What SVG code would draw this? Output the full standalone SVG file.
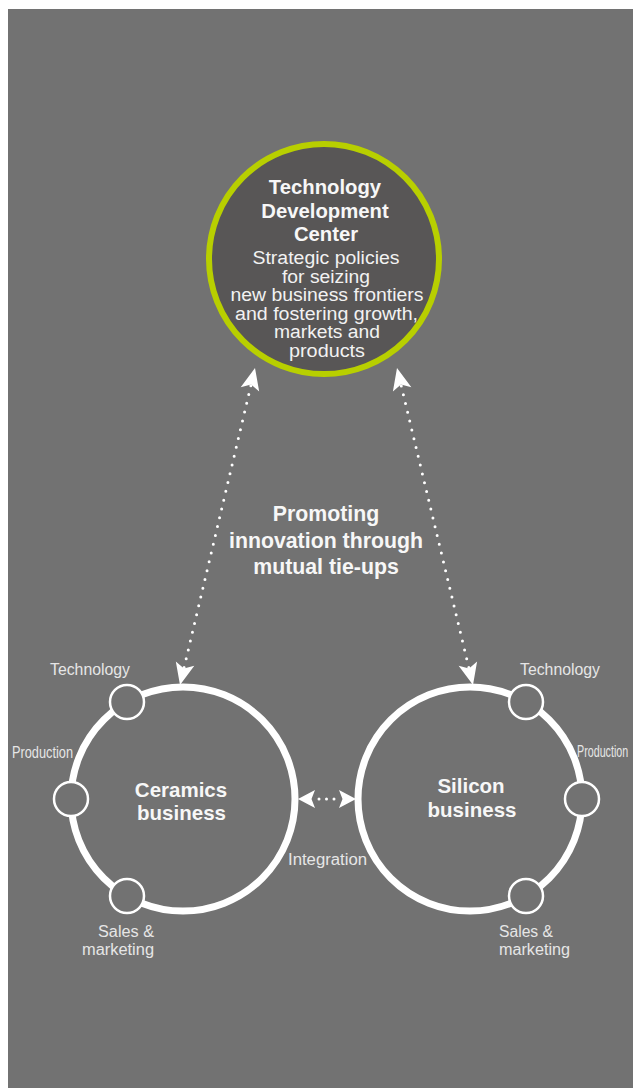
<svg xmlns="http://www.w3.org/2000/svg" width="633" height="1088" viewBox="0 0 633 1088">
  <style>
    .bg { fill: #727272; }
    .hub { fill: #585656; stroke: #b8cf00; stroke-width: 6; }
    .ring { fill: none; stroke: #ffffff; stroke-width: 7; }
    .sub { fill: #727272; stroke: #ffffff; stroke-width: 2.5; }
    .bold { font-family: "Liberation Sans", Arial, sans-serif; font-weight: bold; fill: #f7f7f7; text-anchor: middle; }
    .reg { font-family: "Liberation Sans", Arial, sans-serif; font-size: 18px; fill: #f2f2f2; text-anchor: middle; }
    .lbl { font-family: "Liberation Sans", Arial, sans-serif; font-size: 16px; fill: #e6e6e6; }
    .dots { fill: none; stroke: #ffffff; stroke-width: 3; stroke-linecap: round; }
    .head { fill: none; stroke: none; }
  </style>
  <defs>
    <marker id="arrowBig" markerUnits="userSpaceOnUse" orient="auto-start-reverse" refX="0" refY="0" markerWidth="30" markerHeight="30" overflow="visible">
      <path d="M0,0 L-22,-9.5 L-17,0 L-22,9.5 Z" fill="#ffffff"/>
    </marker>
    <marker id="arrowSmall" markerUnits="userSpaceOnUse" orient="auto-start-reverse" refX="0" refY="0" markerWidth="30" markerHeight="30" overflow="visible">
      <path d="M0,0 L-17,-9 L-13.5,0 L-17,9 Z" fill="#ffffff"/>
    </marker>
  </defs>

  <rect class="bg" x="8" y="9" width="625" height="1079"/>

  <g id="connectors">
    <g id="conn-hub-ceramics">
      <path class="dots" d="M184.1,667.5 L250.9,385.5" stroke-dasharray="0 9.05"/>
      <path class="head" d="M180,685 L255,368" marker-start="url(#arrowBig)" marker-end="url(#arrowBig)"/>
    </g>
    <g id="conn-hub-silicon">
      <path class="dots" d="M468.8,667.5 L401.2,385.5" stroke-dasharray="0 9.05"/>
      <path class="head" d="M473,685 L397,368" marker-start="url(#arrowBig)" marker-end="url(#arrowBig)"/>
    </g>
    <g id="conn-integration">
      <path class="dots" d="M319,799 L335,799" stroke-dasharray="0 7.5"/>
      <path class="head" d="M298,799 L356,799" marker-start="url(#arrowSmall)" marker-end="url(#arrowSmall)"/>
    </g>
  </g>

  <g id="hub">
    <circle class="hub" cx="324" cy="259" r="115"/>
    <text class="bold" font-size="20.3" x="325" y="194">Technology</text>
    <text class="bold" font-size="20.3" x="325" y="217.5">Development</text>
    <text class="bold" font-size="20.3" x="326" y="241">Center</text>
    <text class="reg" x="326" y="264" textLength="147" lengthAdjust="spacingAndGlyphs">Strategic policies</text>
    <text class="reg" x="326" y="282.5" textLength="88" lengthAdjust="spacingAndGlyphs">for seizing</text>
    <text class="reg" x="327" y="301" textLength="193" lengthAdjust="spacingAndGlyphs">new business frontiers</text>
    <text class="reg" x="326.5" y="319.5" textLength="183" lengthAdjust="spacingAndGlyphs">and fostering growth,</text>
    <text class="reg" x="327" y="338" textLength="106" lengthAdjust="spacingAndGlyphs">markets and</text>
    <text class="reg" x="327" y="356.5" textLength="76" lengthAdjust="spacingAndGlyphs">products</text>
  </g>

  <g id="label-promoting">
    <text class="bold" font-size="21.3" x="326" y="521">Promoting</text>
    <text class="bold" font-size="21.3" x="326" y="548">innovation through</text>
    <text class="bold" font-size="21.3" x="326" y="574">mutual tie-ups</text>
  </g>

  <g id="ceramics">
    <circle class="ring" cx="183" cy="799" r="112"/>
    <circle class="sub" cx="127" cy="702" r="17"/>
    <circle class="sub" cx="71" cy="799" r="17"/>
    <circle class="sub" cx="127" cy="896" r="17"/>
    <text class="bold" font-size="20.5" x="181" y="797">Ceramics</text>
    <text class="bold" font-size="20.5" x="181.5" y="820">business</text>
    <text class="lbl" x="50" y="675" textLength="80" lengthAdjust="spacingAndGlyphs">Technology</text>
    <text class="lbl" x="12" y="758" textLength="61" lengthAdjust="spacingAndGlyphs">Production</text>
    <text class="lbl" x="98" y="937" textLength="56" lengthAdjust="spacingAndGlyphs">Sales &amp;</text>
    <text class="lbl" x="82" y="955" textLength="72" lengthAdjust="spacingAndGlyphs">marketing</text>
  </g>

  <g id="silicon">
    <circle class="ring" cx="470" cy="799" r="112"/>
    <circle class="sub" cx="526" cy="702" r="17"/>
    <circle class="sub" cx="582" cy="799" r="17"/>
    <circle class="sub" cx="526" cy="896" r="17"/>
    <text class="bold" font-size="20.5" x="471" y="793">Silicon</text>
    <text class="bold" font-size="20.5" x="472" y="817">business</text>
    <text class="lbl" x="520" y="675" textLength="80" lengthAdjust="spacingAndGlyphs">Technology</text>
    <text class="lbl" transform="translate(577,757) scale(0.67,1)" x="0" y="0">Production</text>
    <text class="lbl" x="499" y="937" textLength="54" lengthAdjust="spacingAndGlyphs">Sales &amp;</text>
    <text class="lbl" x="499" y="955" textLength="71" lengthAdjust="spacingAndGlyphs">marketing</text>
  </g>

  <g id="label-integration">
    <text class="lbl" x="288" y="865" textLength="79" lengthAdjust="spacingAndGlyphs">Integration</text>
  </g>
</svg>
